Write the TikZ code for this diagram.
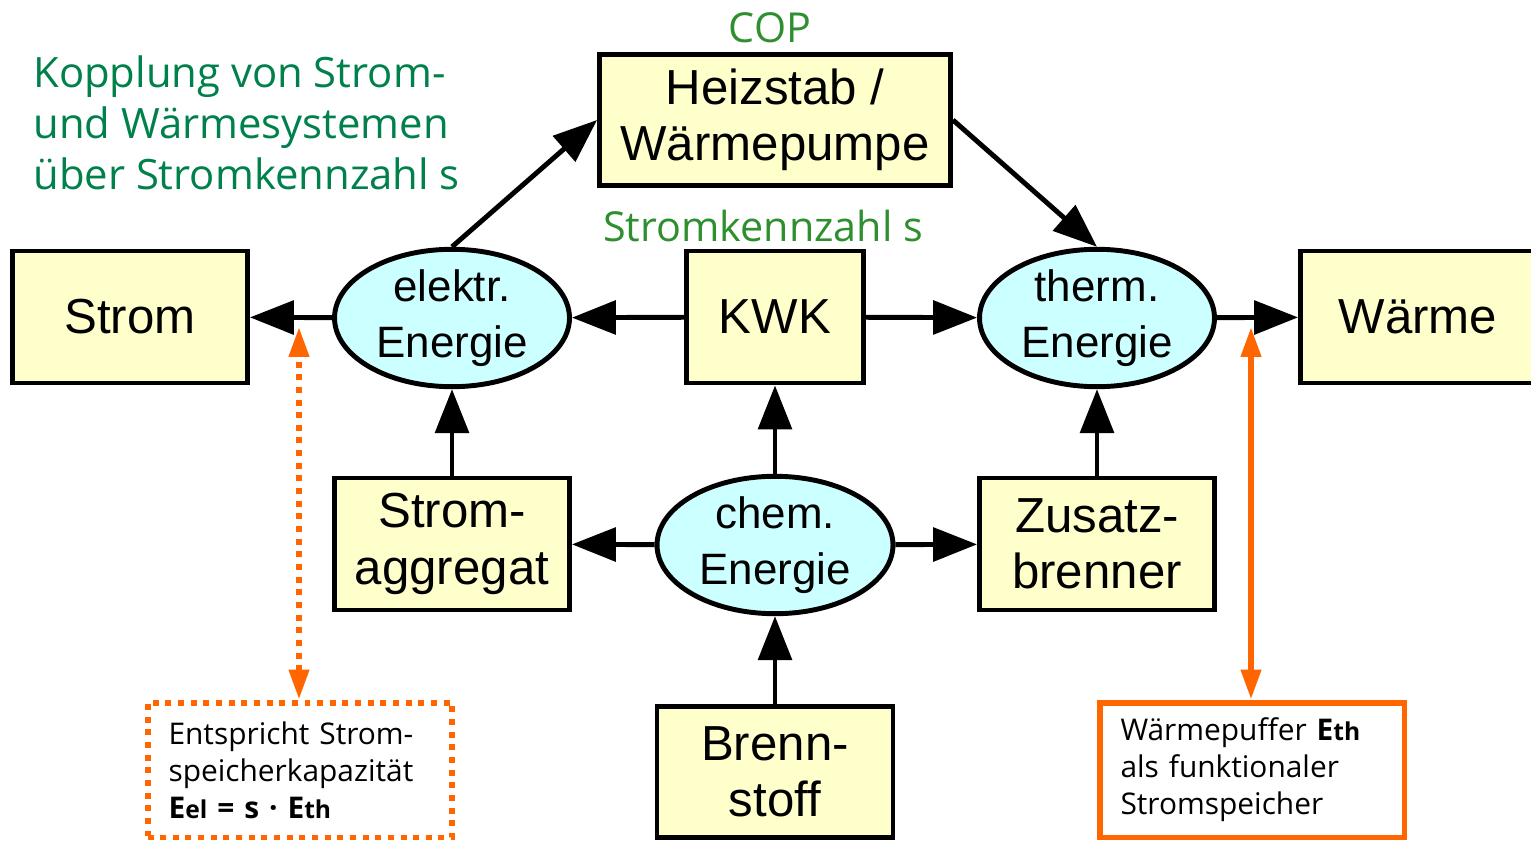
\documentclass[tikz,border=0pt]{standalone}
\usepackage{fontspec}
\setmainfont{Open Sans}
\newfontfamily\arialfont{Liberation Sans}
\usetikzlibrary{arrows.meta,shapes.geometric}
\definecolor{boxfill}{HTML}{FFFFCC}
\definecolor{ellfill}{HTML}{CCFFFF}
\definecolor{titlegreen}{HTML}{00804A}
\definecolor{labelgreen}{HTML}{2F8F2F}
\definecolor{orangeline}{HTML}{FF6600}
\newcommand{\subE}[1]{{\bfseries E{\fontsize{14}{14}\selectfont #1}}}

\begin{document}
\begin{tikzpicture}[x=0.02cm,y=-0.02cm,
  block/.style={draw=black, line width=2.8pt, fill=boxfill, inner sep=0pt,
    align=center, minimum width=4.7cm, minimum height=2.64cm,
    font=\arialfont\fontsize{28}{32}\selectfont},
  energy/.style={ellipse, draw=black, line width=2.8pt, fill=ellfill,
    inner sep=0pt, align=center, minimum width=4.7cm, minimum height=2.64cm,
    font=\arialfont\fontsize{25}{32}\selectfont},
  flow/.style={line width=2.8pt, -{Triangle[length=25pt,width=19pt]}},
  note/.style={draw=orangeline, line width=3.4pt, inner sep=0pt,
    minimum width=6.1cm, minimum height=2.7cm, text width=5.26cm, align=left,
    font=\fontsize{17}{21}\selectfont},
  link/.style={draw=orangeline, line width=3.4pt,
    {Triangle[length=17pt,width=11pt]}-{Triangle[length=17pt,width=11pt]}},
  dots/.style={dash pattern=on 3.4pt off 3.8pt},
  heading/.style={text=titlegreen, font=\fontsize{23.8}{29}\selectfont, inner sep=0pt},
  label/.style={text=labelgreen, font=\fontsize{23.5}{29}\selectfont, inner sep=0pt}]
\useasboundingbox (0,0) rectangle (1531,841);

% title
\node[heading, anchor=base west] (t1) at (33,88) {Kopplung von Strom-};
\node[heading, anchor=base west] (t2) at (33,139) {und Wärmesystemen};
\node[heading, anchor=base west] (t3) at (33,190) {über Stromkennzahl s};

% upper row
\node[block, minimum width=7.02cm, minimum height=2.62cm] (hp) at (775,120) {Heizstab /\\Wärmepumpe};
\node[label] (cop) at (770,28) {COP};
\node[label] (sk) at (763,226) {Stromkennzahl s};

\node[block] (strom) at (130,317) {Strom};
\node[energy] (el) at (452,318) {elektr.\\Energie};
\node[block, minimum width=3.54cm] (kwk) at (775,317) {KWK};
\node[energy] (th) at (1097,318) {therm.\\Energie};
\node[block] (waerme) at (1418,317) {Wärme};

% lower row
\node[block] (agg) at (452,544) {Strom-\\aggregat};
\node[energy, minimum width=4.72cm, minimum height=2.6cm] (chem) at (775,545) {chem.\\Energie};
\node[block] (zus) at (1097,544) {Zusatz-\\brenner};
\node[block, minimum width=4.72cm, minimum height=2.62cm] (bs) at (775,772) {Brenn-\\stoff};

% flows
\draw[flow] (el) -- (strom);
\draw[flow] (kwk) -- (el);
\draw[flow] (kwk) -- (th);
\draw[flow] (th) -- (waerme);
\draw[flow] (el.north) -- (hp.west);
\draw[flow] (hp.east) -- (th.north);
\draw[flow] (agg) -- (el);
\draw[flow] (chem) -- (kwk);
\draw[flow] (zus) -- (th);
\draw[flow] (chem) -- (agg);
\draw[flow] (chem) -- (zus);
\draw[flow] (bs) -- (chem);

% storage notes
\node[note, dots] (eln) at (300,770) {Entspricht Strom-\\speicherkapazität\\\subE{el} \textbf{= s · }\subE{th}};
\node[note] (thn) at (1252,770) {Wärmepuffer \subE{th}\\als funktionaler\\Stromspeicher};
\coordinate (eltip) at (299,327);
\coordinate (thtip) at (1251,327);
\draw[link, dots] (eln.north -| eltip) -- (eltip);
\draw[link] (thn.north -| thtip) -- (thtip);
\end{tikzpicture}
\end{document}
